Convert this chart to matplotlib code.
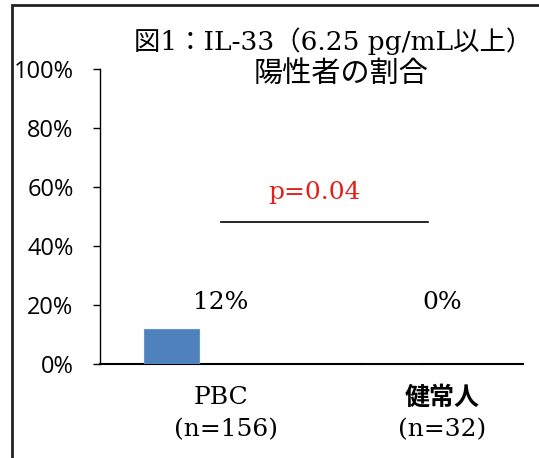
import matplotlib
matplotlib.use("Agg")
import matplotlib.pyplot as plt
from matplotlib.patches import Rectangle
from matplotlib.ticker import PercentFormatter

# Data
groups = ["PBC", "健常人"]
group_n = ["(n=156)", "(n=32)"]
positive_rate = [0.12, 0.00]
rate_labels = ["12%", "0%"]
p_text = "p=0.04"
y_ticks = [0, 0.2, 0.4, 0.6, 0.8, 1.0]

serif = ["DejaVu Serif", "Noto Sans CJK JP"]
sans = ["Open Sans", "Noto Sans CJK JP"]

fig = plt.figure(figsize=(5.39, 4.58), dpi=100)
ax = fig.add_axes([100 / 539, 94 / 458, 423 / 539, 295 / 458])

# bar sits left of the category centre in the original
bar_offset = -0.224
bar_width = 0.249
xs = list(range(len(groups)))
ax.bar([x + bar_offset for x in xs], positive_rate, width=bar_width,
       color="#4F81BD", edgecolor="#6A93C9", linewidth=0.8, zorder=3)

ax.set_xlim(-0.548, 1.367)
ax.set_ylim(0, 1.0)
ax.set_yticks(y_ticks)
ax.yaxis.set_major_formatter(PercentFormatter(1.0, decimals=0))
for lab in ax.get_yticklabels():
    lab.set_family(sans)
    lab.set_fontsize(17)
    lab.set_fontweight("medium")
ax.tick_params(axis="y", length=5, width=1.0, pad=14, color="black")
ax.set_xticks([])

for side in ["top", "right"]:
    ax.spines[side].set_visible(False)
ax.spines["left"].set_linewidth(1.0)
ax.spines["bottom"].set_linewidth(1.5)

# value labels
for x, lab in zip(xs, rate_labels):
    ax.text(x, 0.21, lab, ha="center", va="center", fontsize=18, family=serif)

# significance line
ax.plot([0.0, 0.937], [0.481, 0.481], color="black", lw=1.2)
ax.text(0.425, 0.583, p_text, ha="center", va="center", fontsize=18,
        family=serif, color="#E3211C")

# category labels under the axis
ax.annotate(groups[0], xy=(xs[0], 0), xytext=(0, -34), textcoords="offset pixels",
            ha="center", va="center", fontsize=18, family=serif, annotation_clip=False)
ax.annotate(groups[1], xy=(xs[1], 0), xytext=(0, -34), textcoords="offset pixels",
            ha="center", va="center", fontsize=18, family=sans, fontweight="bold",
            annotation_clip=False)
for x, n in zip(xs, group_n):
    ax.annotate(n, xy=(x, 0), xytext=(5 if x == 0 else 0, -66), textcoords="offset pixels",
                ha="center", va="center", fontsize=18, family=serif, annotation_clip=False)

# title, two lines in different fonts
fig.text(333 / 539, 1 - 41 / 458, "図1：IL-33（6.25 pg/mL以上）", ha="center",
         va="center", fontsize=19, family=serif)
fig.text(341 / 539, 1 - 74 / 458, "陽性者の割合", ha="center", va="center",
         fontsize=21, family=sans)

# frame around the chart area
fig.patches.append(Rectangle((12 / 539, -0.05), 1.1, 1 - 5 / 458 + 0.05,
                             transform=fig.transFigure, fill=False,
                             edgecolor="#222222", linewidth=2.0))

fig.savefig("out.png", dpi=100)
